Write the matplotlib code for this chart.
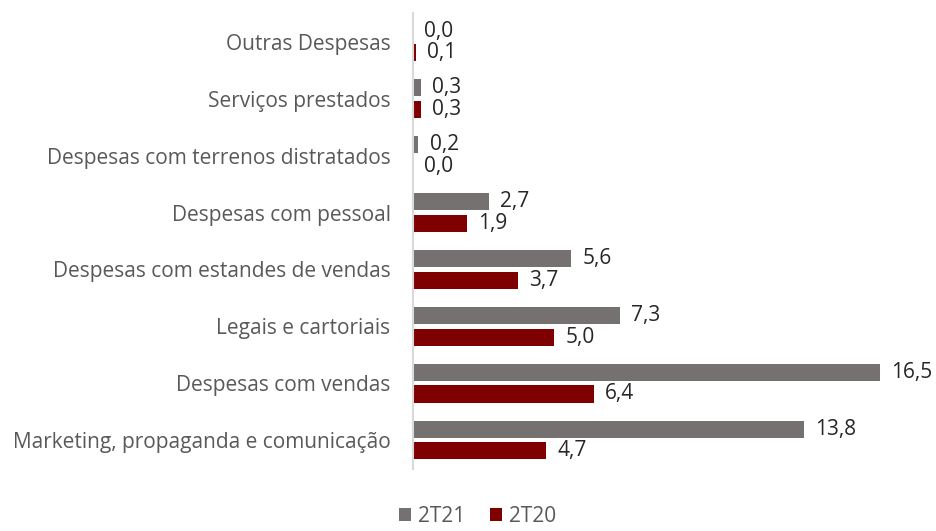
import matplotlib.pyplot as plt
import numpy as np

# Data
categories = ['Outras Despesas', 'Serviços prestados', 'Despesas com terrenos distratados',
              'Despesas com pessoal', 'Despesas com estandes de vendas', 'Legais e cartoriais',
              'Despesas com vendas', 'Marketing, propaganda e comunicação']
v_2t21 = [0.0, 0.3, 0.2, 2.7, 5.6, 7.3, 16.5, 13.8]
v_2t20 = [0.1, 0.3, 0.0, 1.9, 3.7, 5.0, 6.4, 4.7]

plt.rcParams['font.family'] = ['Open Sans', 'DejaVu Sans']

fig = plt.figure(figsize=(9.36, 5.31), dpi=100)
ax = fig.add_axes([0.441, 0.1177, 0.545, 0.857])

y = np.arange(len(categories))
h = 0.3
off = 0.19
gray = '#767171'
red = '#7f0000'
b1 = ax.barh(y - off, v_2t21, height=h, color=gray, label='2T21')
b2 = ax.barh(y + off, v_2t20, height=h, color=red, label='2T20')

for bars, vals in ((b1, v_2t21), (b2, v_2t20)):
    for bar, v in zip(bars, vals):
        ax.annotate(f'{v:.1f}'.replace('.', ','), (v, bar.get_y() + bar.get_height() / 2),
                    xytext=(8, 0), textcoords='offset points', va='center', ha='left',
                    fontsize=15, color='#262626')

ax.set_xlim(0, 18)
ax.set_ylim(len(categories) - 0.5, -0.5)
ax.set_yticks(y)
ax.set_yticklabels(categories, fontsize=15, color='#595959')
ax.tick_params(axis='y', length=0, pad=16)
ax.set_xticks([])
for s in ['top', 'right', 'bottom']:
    ax.spines[s].set_visible(False)
ax.spines['left'].set_color('#d9d9d9')
ax.spines['left'].set_linewidth(1.5)

leg = fig.legend(handles=[b1, b2], loc='lower center', bbox_to_anchor=(0.51, -0.028), ncol=2,
                 frameon=False, fontsize=15, handlelength=0.6, handleheight=0.6,
                 handletextpad=0.3, columnspacing=1.2)
for t in leg.get_texts():
    t.set_color('#595959')

fig.savefig('out.png', dpi=100)
